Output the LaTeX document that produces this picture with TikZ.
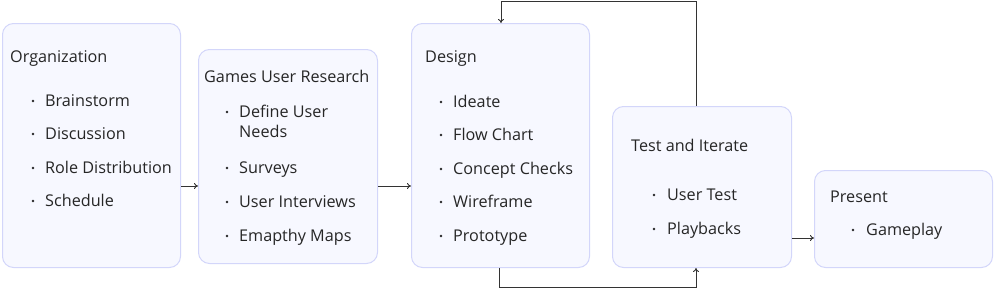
\documentclass[tikz,border=0pt]{standalone}
\usepackage{fontspec}
\setmainfont{Open Sans}
\usetikzlibrary{arrows.meta}
\definecolor{boxfill}{HTML}{F7F8FF}
\definecolor{boxline}{HTML}{D3D6FA}
\definecolor{txt}{HTML}{262626}
\definecolor{arrc}{HTML}{333333}
\begin{document}
\begin{tikzpicture}[x=1pt,y=-1pt,
  stagebox/.style={draw=boxline, fill=boxfill, line width=1pt, rounded corners=11pt, anchor=north west, inner sep=0pt},
  lbl/.style={anchor=base west, inner sep=0pt, text=txt, font=\fontsize{16.2}{19}\selectfont},
  bul/.style={inner sep=0pt, circle, fill=txt, minimum size=2.6pt},
  arr/.style={draw=arrc, line width=0.9pt, -{To[length=4pt,width=6pt]}}]
\useasboundingbox (0,0) rectangle (994,289);
% boxes
\node[stagebox, minimum width=178pt, minimum height=244pt] (org) at (2,23) {};
\node[stagebox, minimum width=179pt, minimum height=214pt] (gur) at (198,49) {};
\node[stagebox, minimum width=178pt, minimum height=244pt] (des) at (411,23) {};
\node[stagebox, minimum width=179pt, minimum height=161pt] (tst) at (612,106) {};
\node[stagebox, minimum width=178pt, minimum height=97pt] (pre) at (814,170) {};
% Organization
\node[lbl] (orgt) at (10,62) {Organization};
\foreach \y/\t [count=\i] in {101/Brainstorm,134/Discussion,168/Role Distribution,201/Schedule}{
  \node[bul] (ob\i) at (33,\y) {};
  \node[lbl] (oi\i) at (45,\y+5.5) {\t};
}
% GUR
\node[lbl] (gurt) at (204,82) {Games User Research};
\node[bul] (gb1) at (227,112) {};
\node[lbl] (gi1) at (239,117.5) {Define User};
\node[lbl] (gi1b) at (239,137.5) {Needs};
\foreach \y/\t [count=\i from 2] in {168/Surveys,202/User Interviews,236/Emapthy Maps}{
  \node[bul] (gb\i) at (227,\y) {};
  \node[lbl] (gi\i) at (239,\y+5.5) {\t};
}
% Design
\node[lbl] (dest) at (425,62) {Design};
\foreach \y/\t [count=\i] in {102/Ideate,135/Flow Chart,169/Concept Checks,202/Wireframe,236/Prototype}{
  \node[bul] (db\i) at (441,\y) {};
  \node[lbl] (di\i) at (453,\y+5.5) {\t};
}
% Test
\node[lbl] (tstt) at (631,151) {Test and Iterate};
\foreach \y/\t [count=\i] in {195/User Test,229/Playbacks}{
  \node[bul] (tb\i) at (654,\y) {};
  \node[lbl] (ti\i) at (667,\y+5.5) {\t};
}
% Present
\node[lbl] (pret) at (830,202) {Present};
\node[bul] (pb1) at (853,230) {};
\node[lbl] (pi1) at (866,235.5) {Gameplay};
% connectors
\draw[arr] (org.east |- 0,186) -- (gur.west |- 0,186);
\draw[arr] (gur.east |- 0,186) -- (des.west |- 0,186);
\draw[arr] (tst.east |- 0,238) -- (pre.west |- 0,238);
\draw[arr] (des.south -| 499,0) -- (499,287) -- (696,287) -- (tst.south -| 696,0);
\draw[arr] (tst.north -| 696,0) -- (696,1) -- (501,1) -- (des.north -| 501,0);
\end{tikzpicture}
\end{document}
